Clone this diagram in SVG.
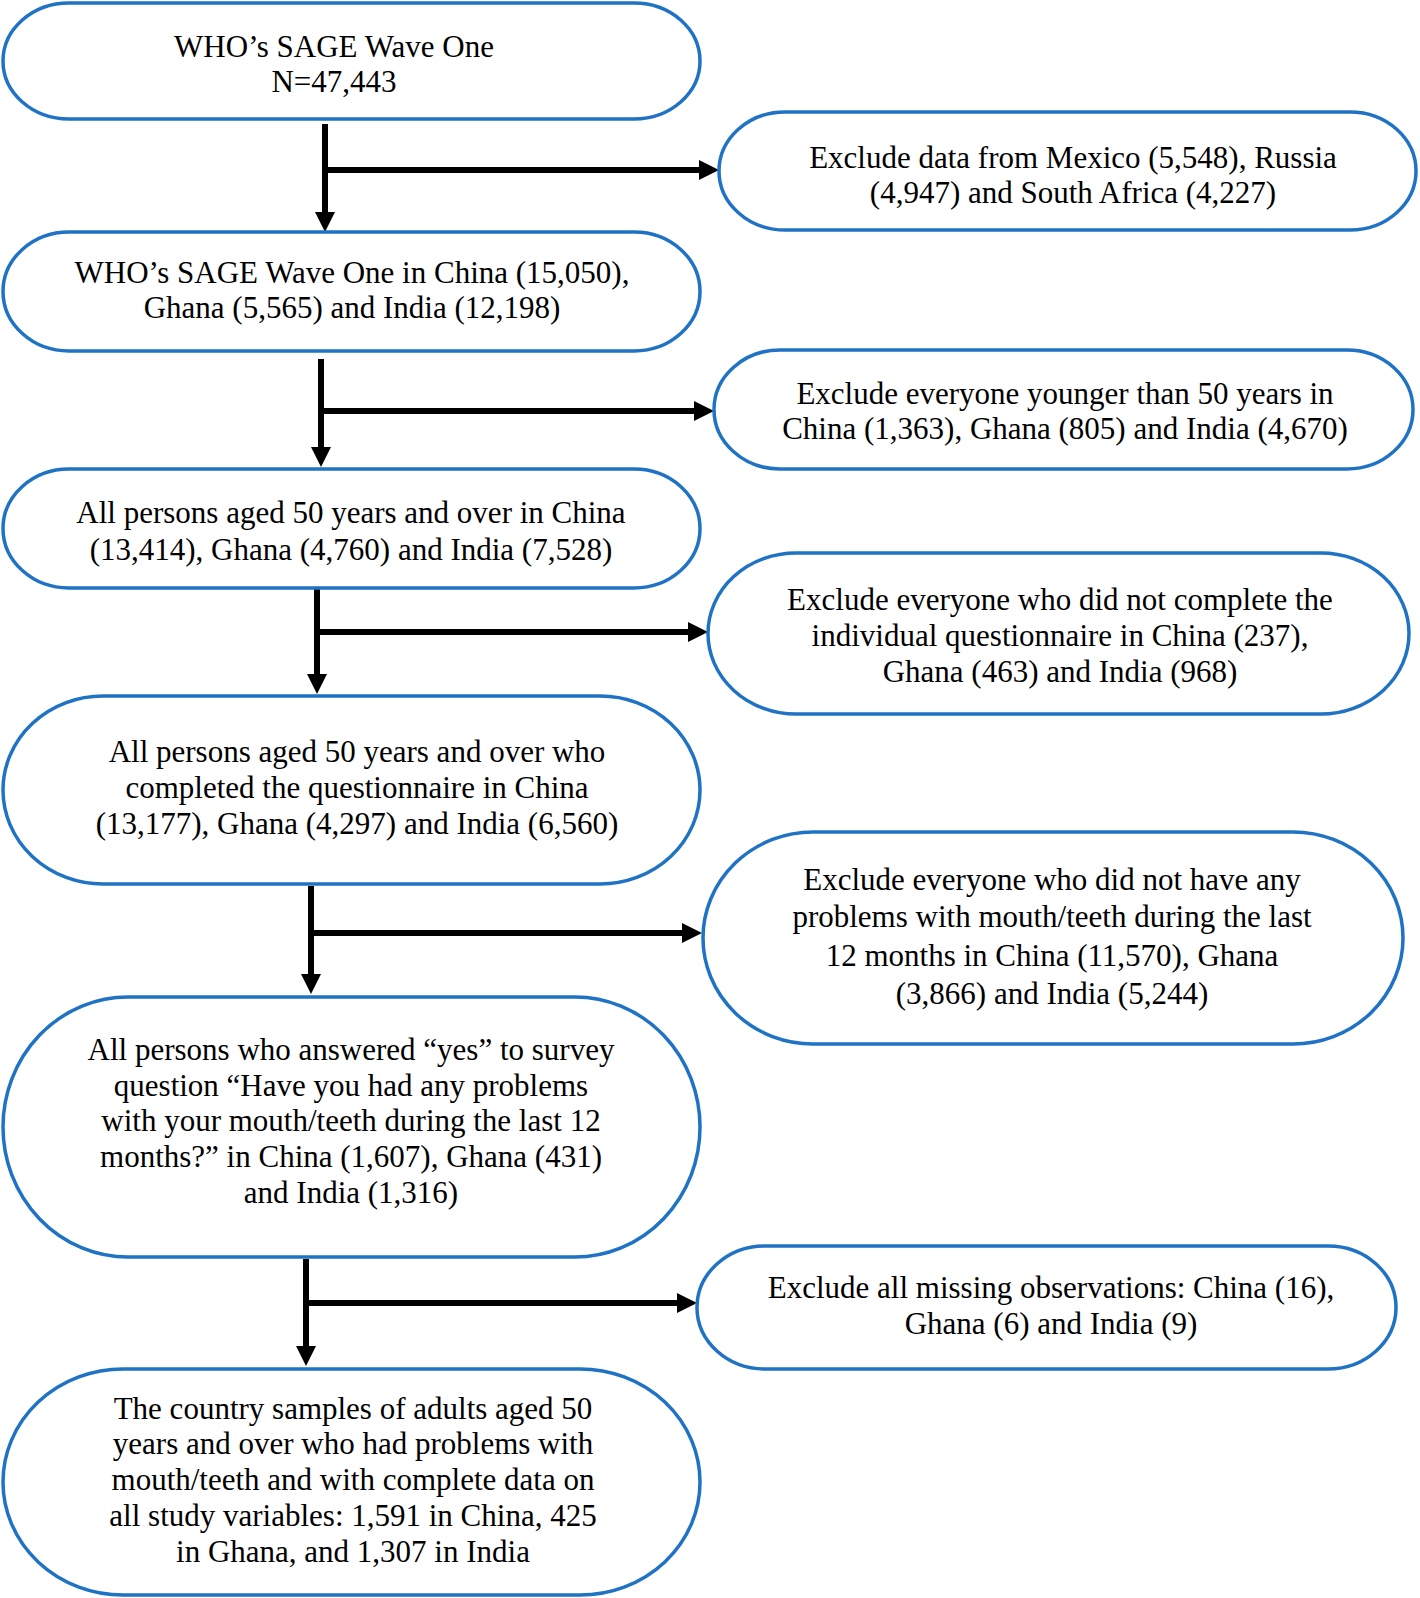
<svg xmlns="http://www.w3.org/2000/svg" width="1420" height="1598" viewBox="0 0 1420 1598">
<style>
.box{fill:#fff;stroke:#1f72c4;stroke-width:3.5}
.t{font-family:"Liberation Serif","Times New Roman",serif;font-size:31px;fill:#000;text-anchor:middle}
.ln{stroke:#000;stroke-width:6;fill:none}
</style>
<defs>
<marker id="ah" markerUnits="userSpaceOnUse" markerWidth="20" markerHeight="20" refX="0" refY="10" orient="auto" viewBox="0 0 20 20">
<path d="M0,0 L20,10 L0,20 z" fill="#000"/>
</marker>
</defs>
<rect width="1420" height="1598" fill="#fff"/>
<g id="connectors">
<path class="ln" d="M325,124 V212" marker-end="url(#ah)"/>
<path class="ln" d="M328,170 H699" marker-end="url(#ah)"/>
<path class="ln" d="M321,359 V447" marker-end="url(#ah)"/>
<path class="ln" d="M321,411 H694" marker-end="url(#ah)"/>
<path class="ln" d="M317,588 V674" marker-end="url(#ah)"/>
<path class="ln" d="M317,632 H688" marker-end="url(#ah)"/>
<path class="ln" d="M311,886 V974" marker-end="url(#ah)"/>
<path class="ln" d="M311,933 H682" marker-end="url(#ah)"/>
<path class="ln" d="M306,1259 V1346" marker-end="url(#ah)"/>
<path class="ln" d="M306,1303 H677" marker-end="url(#ah)"/>
</g>
<g id="n1">
<rect class="box" x="3" y="3" width="697" height="116" rx="66" ry="58"/>
<text class="t" x="334" y="57">WHO’s SAGE Wave One</text>
<text class="t" x="334" y="92">N=47,443</text>
</g>
<g id="r1">
<rect class="box" x="719" y="112" width="697" height="118" rx="66" ry="59"/>
<text class="t" x="1073" y="168">Exclude data from Mexico (5,548), Russia</text>
<text class="t" x="1073" y="203">(4,947) and South Africa (4,227)</text>
</g>
<g id="n2">
<rect class="box" x="3" y="232" width="697" height="119" rx="66" ry="59.5"/>
<text class="t" x="352" y="283">WHO’s SAGE Wave One in China (15,050),</text>
<text class="t" x="352" y="318">Ghana (5,565) and India (12,198)</text>
</g>
<g id="r2">
<rect class="box" x="714" y="350" width="699" height="119" rx="66" ry="59.5"/>
<text class="t" x="1065" y="404">Exclude everyone younger than 50 years in</text>
<text class="t" x="1065" y="439">China (1,363), Ghana (805) and India (4,670)</text>
</g>
<g id="n3">
<rect class="box" x="3" y="469" width="697" height="119" rx="66" ry="59.5"/>
<text class="t" x="351" y="523">All persons aged 50 years and over in China</text>
<text class="t" x="351" y="560">(13,414), Ghana (4,760) and India (7,528)</text>
</g>
<g id="r3">
<rect class="box" x="708" y="553" width="701" height="161" rx="88" ry="80.5"/>
<text class="t" x="1060" y="610">Exclude everyone who did not complete the</text>
<text class="t" x="1060" y="646">individual questionnaire in China (237),</text>
<text class="t" x="1060" y="682">Ghana (463) and India (968)</text>
</g>
<g id="n4">
<rect class="box" x="3" y="696" width="697" height="188" rx="100" ry="94"/>
<text class="t" x="357" y="762">All persons aged 50 years and over who</text>
<text class="t" x="357" y="798">completed the questionnaire in China</text>
<text class="t" x="357" y="834">(13,177), Ghana (4,297) and India (6,560)</text>
</g>
<g id="r4">
<rect class="box" x="703" y="832" width="700" height="212" rx="110" ry="106"/>
<text class="t" x="1052" y="890">Exclude everyone who did not have any</text>
<text class="t" x="1052" y="927">problems with mouth/teeth during the last</text>
<text class="t" x="1052" y="966">12 months in China (11,570), Ghana</text>
<text class="t" x="1052" y="1004">(3,866) and India (5,244)</text>
</g>
<g id="n5">
<rect class="box" x="3" y="997" width="697" height="260" rx="125" ry="130"/>
<text class="t" x="351" y="1060">All persons who answered “yes” to survey</text>
<text class="t" x="351" y="1096">question “Have you had any problems</text>
<text class="t" x="351" y="1131">with your mouth/teeth during the last 12</text>
<text class="t" x="351" y="1167">months?” in China (1,607), Ghana (431)</text>
<text class="t" x="351" y="1203">and India (1,316)</text>
</g>
<g id="r5">
<rect class="box" x="697" y="1246" width="699" height="123" rx="68" ry="61.5"/>
<text class="t" x="1051" y="1298">Exclude all missing observations: China (16),</text>
<text class="t" x="1051" y="1334">Ghana (6) and India (9)</text>
</g>
<g id="n6">
<rect class="box" x="3" y="1369" width="697" height="226" rx="120" ry="113"/>
<text class="t" x="353" y="1419">The country samples of adults aged 50</text>
<text class="t" x="353" y="1454">years and over who had problems with</text>
<text class="t" x="353" y="1490">mouth/teeth and with complete data on</text>
<text class="t" x="353" y="1526">all study variables: 1,591 in China, 425</text>
<text class="t" x="353" y="1562">in Ghana, and 1,307 in India</text>
</g>
</svg>
